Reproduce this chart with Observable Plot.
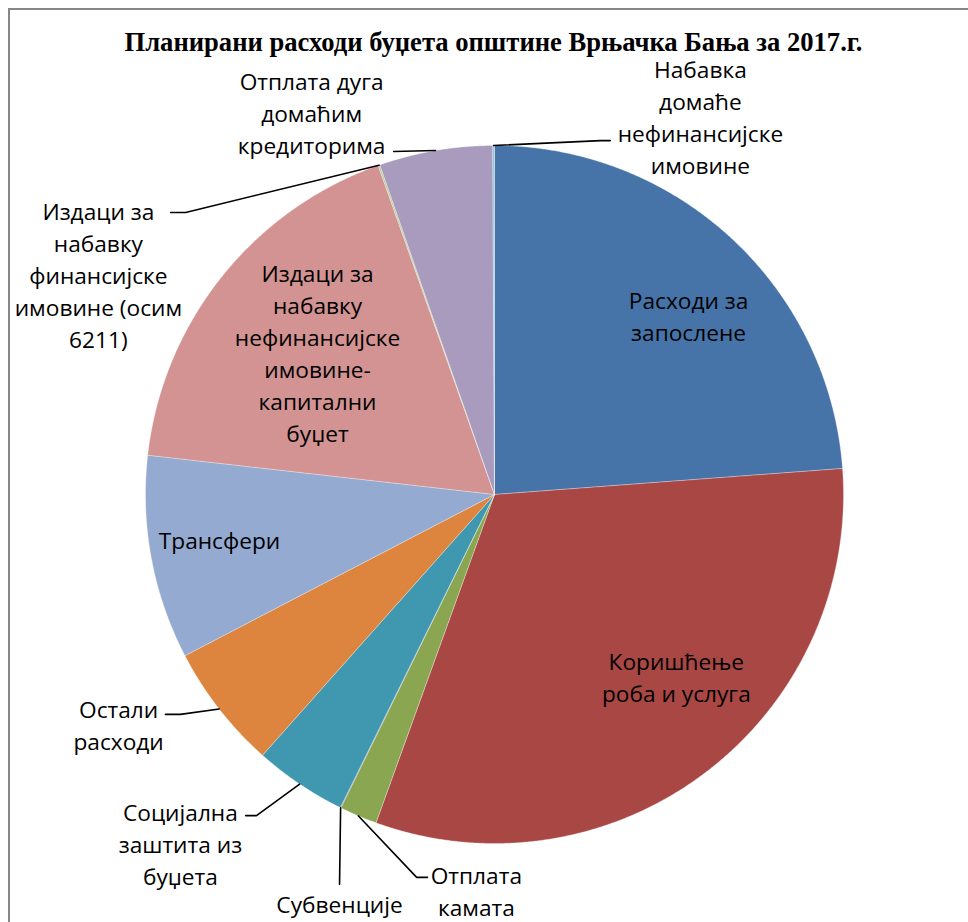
<!DOCTYPE html>
<html><head><meta charset="utf-8">
<script src="https://cdn.jsdelivr.net/npm/d3@7"></script>
<script src="https://cdn.jsdelivr.net/npm/@observablehq/plot@0.6"></script>
<style>
html,body{margin:0;padding:0;background:#fff;overflow:hidden;width:968px;height:922px;}
#chart{position:absolute;left:0;top:0;}
#frame{position:absolute;left:8px;top:8px;width:2000px;height:2000px;border-left:2px solid #878787;border-top:2px solid #878787;pointer-events:none;}
</style></head><body>
<div id="chart"></div><div id="frame"></div>
<script>
const title = "Планирани расходи буџета општине Врњачка Бања за 2017.г.";
const categories = [
  "Расходи за запослене",
  "Коришћење роба и услуга",
  "Отплата камата",
  "Субвенције",
  "Социјална заштита из буџета",
  "Остали расходи",
  "Трансфери",
  "Издаци за набавку нефинансијске имовине-капитални буџет",
  "Издаци за набавку финансијске имовине (осим 6211)",
  "Отплата дуга домаћим кредиторима",
  "Набавка домаће нефинансијске имовине"
];
const labelText = [
  "Расходи за\nзапослене",
  "Коришћење\nроба и услуга",
  "Отплата\nкамата",
  "Субвенције",
  "Социјална\nзаштита из\nбуџета",
  "Остали\nрасходи",
  "Трансфери",
  "Издаци за\nнабавку\nнефинансијске\nимовине-\nкапитални\nбуџет",
  "Издаци за\nнабавку\nфинансијске\nимовине (осим\n6211)",
  "Отплата дуга\nдомаћим\nкредиторима",
  "Набавка\nдомаће\nнефинансијске\nимовине"
];
// shares in percent
const shares = [23.82, 31.71, 1.74, 0.03, 4.29, 5.79, 9.44, 17.80, 0.08, 5.25, 0.08];
const colors = ["#4674A8", "#A94745", "#8AA650", "#80699B", "#3F98B0", "#DD843F", "#94AAD0", "#D29392", "#B9CD96", "#A99BBE", "#8FC3D6"];

// label layout (pie-radius units, y up)
const labelPos = [[0.556,0.516],[0.521,-0.519],[-0.052,-1.132],[-0.444,-1.169],[-0.900,-0.997],[-1.077,-0.656],[-0.788,-0.126],[-0.507,0.410],[-1.135,0.633],[-0.524,1.097],[0.590,1.084]];
const leaderElbow = [null,null,[-0.223,-1.097],[-0.444,-1.117],[-0.682,-0.920],[-0.900,-0.630],null,null,[-0.885,0.808],[-0.289,0.983],[0.304,1.014]];
const leaderEnd   = [null,null,[-0.192,-1.097],[-0.444,-1.117],[-0.713,-0.920],[-0.943,-0.630],null,null,[-0.928,0.808],[-0.289,0.983],[0.332,1.014]];

const arcs = d3.pie().sort(null).value(d => d)(shares);
const slicePts = [];
arcs.forEach((a, i) => {
  const cat = categories[i];
  slicePts.push({cat, x: 0, y: 0});
  const n = Math.max(2, Math.ceil((a.endAngle - a.startAngle) / 0.004));
  for (let k = 0; k <= n; k++) {
    const t = a.startAngle + (a.endAngle - a.startAngle) * k / n;
    slicePts.push({cat, x: Math.sin(t), y: Math.cos(t)});
  }
  slicePts.push({cat, x: 0, y: 0});
});
const leaderPts = [];
arcs.forEach((a, i) => {
  if (!leaderElbow[i]) return;
  const m = (a.startAngle + a.endAngle) / 2;
  leaderPts.push({cat: categories[i], x: Math.sin(m), y: Math.cos(m)});
  leaderPts.push({cat: categories[i], x: leaderElbow[i][0], y: leaderElbow[i][1]});
  leaderPts.push({cat: categories[i], x: leaderEnd[i][0], y: leaderEnd[i][1]});
});
const labelData = categories.map((c, i) => ({text: labelText[i], x: labelPos[i][0], y: labelPos[i][1]}));

const chart = Plot.plot({
  width: 968, height: 922,
  marginTop: 0, marginRight: 0, marginBottom: 0, marginLeft: 0,
  style: {background: "transparent"},
  x: {domain: [-1, 1], range: [145, 843], axis: null},
  y: {domain: [-1, 1], range: [843, 145], axis: null},
  color: {type: "ordinal", domain: categories, range: colors},
  marks: [
    Plot.line(slicePts, {x: "x", y: "y", z: "cat", fill: "cat", stroke: "#ffffff", strokeWidth: 0.6, strokeOpacity: 0.5}),
    Plot.line(leaderPts, {x: "x", y: "y", z: "cat", stroke: "#000", strokeWidth: 1.6}),
    Plot.text(labelData, {x: "x", y: "y", text: "text", fontFamily: "Open Sans", fontSize: 22.7, lineHeight: 1.41, fill: "#000", textAnchor: "middle", lineAnchor: "middle"}),
    Plot.text([title], {frameAnchor: "top", dy: 42, dx: 9, text: d => d, lineAnchor: "middle", fontFamily: "Liberation Serif", fontWeight: "bold", fontSize: 26.6, fill: "#000"})
  ]
});
document.getElementById("chart").appendChild(chart);
</script>
</body></html>
